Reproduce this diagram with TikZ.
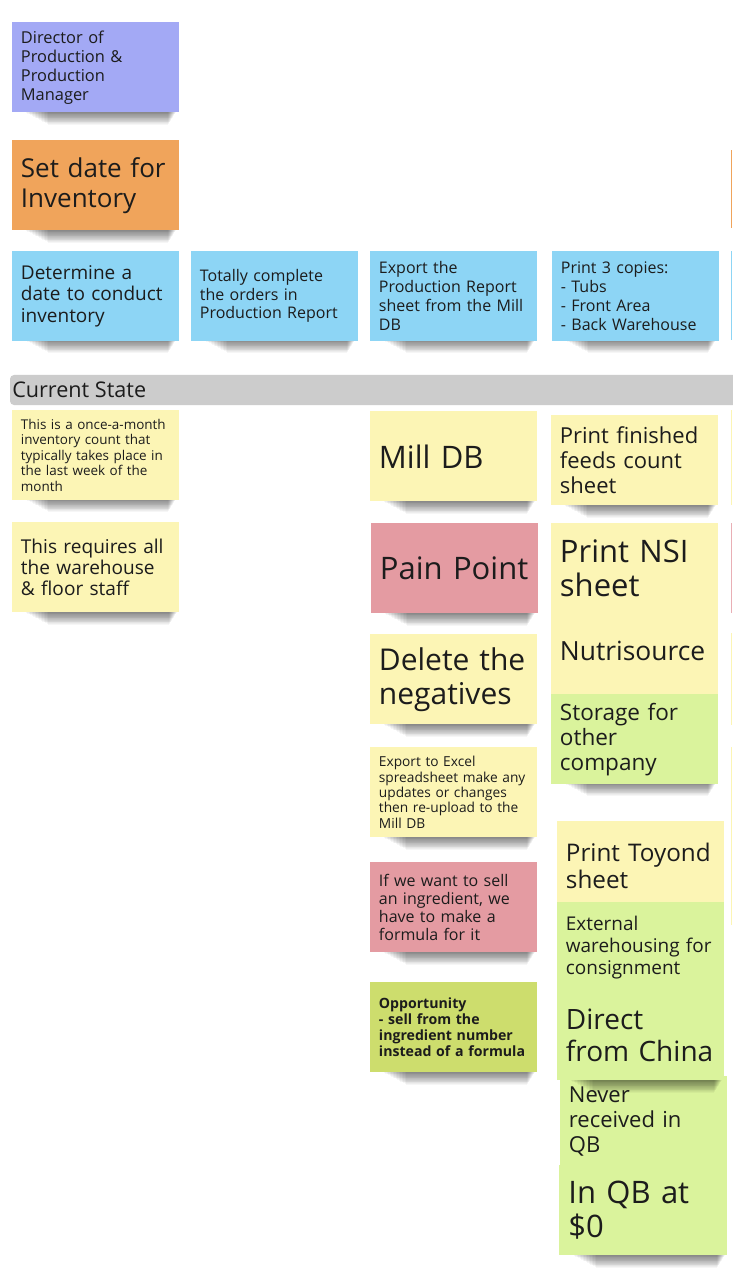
\documentclass[tikz,border=0pt]{standalone}
\usepackage{fontspec}
\setmainfont{Open Sans}
\definecolor{ink}{HTML}{1C1C1C}
\definecolor{cpurple}{HTML}{A3A9F5}
\definecolor{corange}{HTML}{F0A45B}
\definecolor{cblue}{HTML}{8DD5F5}
\definecolor{cyellow}{HTML}{FCF5B5}
\definecolor{cpink}{HTML}{E49BA2}
\definecolor{cgreen}{HTML}{DAF39C}
\definecolor{colive}{HTML}{CDDD6D}
\definecolor{cgray}{HTML}{CCCCCC}
\newcommand\fsz[2]{\fontsize{#1}{#2}\selectfont}
\newcommand\shad[3]{%
  \foreach \k in {1,...,16}{\fill[black,opacity=0.034] (#1+12+1.5*\k,#3-2) rectangle (#2-2-0.5*\k,#3+0.8*\k);}%
}
\tikzset{
  note/.style={anchor=north west, inner xsep=6.5pt, inner ysep=0pt,
    minimum width=125.25pt, minimum height=67.5pt, text width=112.25pt,
    align=left, text=ink}
}
\begin{document}
\begin{tikzpicture}[x=0.75pt,y=-0.75pt]
\useasboundingbox (0,0) rectangle (732,1276);
\fill[white] (0,0) rectangle (732,1276);

% slivers of the next column at the right edge
\fill[corange] (730.8,150) rectangle (732,228);
\fill[cblue] (730.8,251) rectangle (732,340);
\fill[cyellow] (730.8,410) rectangle (732,505);
\fill[cpink!80] (730.8,523) rectangle (732,613);
\fill[cyellow] (730.8,633) rectangle (732,725);
\fill[cyellow] (730.8,747) rectangle (732,925);

% row 1
\shad{12}{178}{112}
\node[note, fill=cpurple, font=\fsz{12.3pt}{14.25pt}] (director) at (12,22) {Director of\\Production \&\\Production\\Manager};
\shad{12}{178}{230}
\node[note, fill=corange, font=\fsz{19.5pt}{22.5pt}] (setdate) at (12,140) {Set date for\\Inventory};

% blue row
\shad{12}{178}{340}
\node[note, fill=cblue, font=\fsz{14.25pt}{16.1pt}] (determine) at (12,251) {Determine a\\date to conduct\\inventory};
\shad{191}{357}{340}
\node[note, fill=cblue, font=\fsz{12pt}{13.9pt}] (complete) at (191,251) {Totally complete\\the orders in\\Production Report};
\shad{370}{537}{340}
\node[note, fill=cblue, font=\fsz{12pt}{14.25pt}] (export) at (370,251) {Export the\\Production Report\\sheet from the Mill\\DB};
\shad{552}{718}{340}
\node[note, fill=cblue, font=\fsz{12pt}{14.25pt}] (print3) at (552,251) {Print 3 copies:\\- Tubs\\- Front Area\\- Back Warehouse};

% current state bar
\fill[cgray, rounded corners=3pt] (10,375) rectangle (760,405);
\node[anchor=west, inner sep=0pt, text=ink, font=\fsz{16.2pt}{18pt}] (cstate) at (12,390) {Current State};

% left column
\shad{12}{178}{499}
\node[note, fill=cyellow, font=\fsz{10.1pt}{11.6pt}] (once) at (12,410) {This is a once-a-month\\inventory count that\\typically takes place in\\the last week of the\\month};
\shad{12}{179}{612}
\node[note, fill=cyellow, font=\fsz{14.3pt}{15.75pt}] (requires) at (12,522) {This requires all\\the warehouse\\\& floor staff};

% middle column
\shad{370}{537}{501}
\node[note, fill=cyellow, font=\fsz{23.25pt}{25.5pt}] (milldb) at (370,411) {Mill DB};
\shad{371}{537}{613}
\node[note, fill=cpink, font=\fsz{23.25pt}{25.5pt}] (pain) at (371,523) {Pain Point};
\shad{370}{537}{724}
\node[note, fill=cyellow, font=\fsz{22.5pt}{25.5pt}] (delete) at (370,634) {Delete the\\negatives};
\shad{370}{537}{837}
\node[note, fill=cyellow, font=\fsz{10.3pt}{11.6pt}] (excel) at (370,747) {Export to Excel\\spreadsheet make any\\updates or changes\\then re-upload to the\\Mill DB};
\shad{370}{537}{952}
\node[note, fill=cpink, font=\fsz{12pt}{13.5pt}] (ifsell) at (370,862) {If we want to sell\\an ingredient, we\\have to make a\\formula for it};
\shad{370}{537}{1072}
\node[note, fill=colive, font=\fsz{10.6pt}{12pt}\bfseries] (opp) at (370,982) {Opportunity\\- sell from the\\ingredient number\\instead of a formula};

% right column
\shad{551}{718}{505}
\node[note, fill=cyellow, font=\fsz{16.5pt}{18.75pt}] (finished) at (551,415) {Print finished\\feeds count\\sheet};
\node[note, fill=cyellow, font=\fsz{23.25pt}{25.5pt}] (nsi) at (551,523) {Print NSI\\sheet};
\node[note, fill=cyellow, font=\fsz{19.8pt}{22pt}] (nutri) at (551,606) {Nutrisource};
\shad{551}{718}{783}
\node[note, fill=cgreen, font=\fsz{16.9pt}{18.75pt}] (storage) at (551,694) {Storage for\\other\\company};

\node[note, fill=cyellow, font=\fsz{18.2pt}{20.25pt}] (toyond) at (557,821) {Print Toyond\\sheet};
\node[note, fill=cgreen, font=\fsz{14.2pt}{16.5pt}] (external) at (557,902) {External\\warehousing for\\consignment};
\shad{560}{727}{1255}
\node[note, fill=cgreen, minimum width=126pt, font=\fsz{23.25pt}{25.5pt}] (inqb) at (559,1165) {In QB at\\\$0};
\node[note, fill=cgreen, font=\fsz{16.5pt}{18.75pt}] (never) at (560,1076) {Never\\received in\\QB};
\shad{557}{724}{1080}
\node[note, fill=cgreen, font=\fsz{21pt}{24pt}] (direct) at (557,990) {Direct\\from China};
\end{tikzpicture}
\end{document}
